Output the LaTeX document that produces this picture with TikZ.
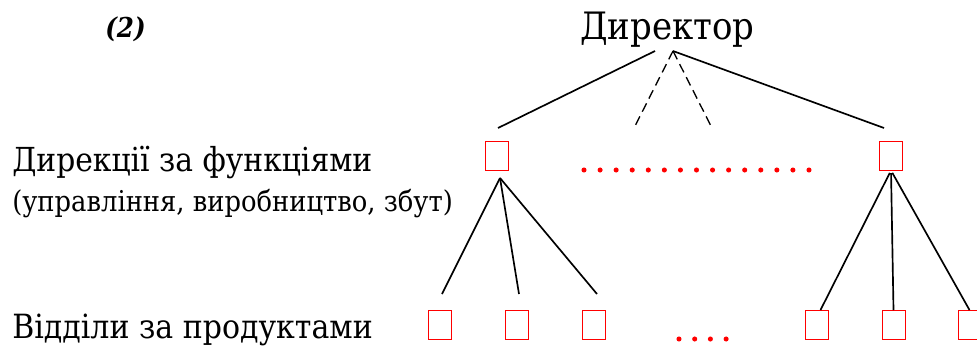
\documentclass[tikz,border=0pt]{standalone}
\usepackage{fontspec}
\setmainfont{DejaVu Serif}[FakeStretch=0.9]
\tikzset{
  cell/.style={draw=red, line width=0.75pt, minimum width=17.25pt,
    minimum height=21.75pt, inner sep=0pt},
  link/.style={line width=1.25pt},
  heading/.style={inner sep=0pt, anchor=base west},
}
\begin{document}
\begin{tikzpicture}[x=0.75pt,y=-0.75pt]
    \useasboundingbox (0,0) rectangle (977,347);
    % titles
    \node[heading] (num) at (105,37) {\fontsize{20.5}{20.5}\selectfont\bfseries\itshape (2)};
    \node[inner sep=0pt, anchor=base] (dir) at (667.5,39.5) {\fontsize{28.3}{28.3}\selectfont Директор};
    \node[heading] (lvl1) at (12,171.5) {\fontsize{24.8}{24.8}\selectfont Дирекції за функціями};
    \node[heading] (lvl1b) at (12,211) {\fontsize{21.5}{21.5}\selectfont (управління, виробництво, збут)};
    \node[heading] (lvl2) at (12,338) {\fontsize{25}{25}\selectfont Відділи за продуктами};
    % boxes
    \node[cell] (d1) at (497,155.5) {};
    \node[cell] (d2) at (891,155.5) {};
    \node[cell] (p1) at (439.5,325) {};
    \node[cell] (p2) at (516.5,325) {};
    \node[cell] (p3) at (593.5,325) {};
    \node[cell] (p4) at (816.5,325) {};
    \node[cell] (p5) at (893.5,325) {};
    \node[cell] (p6) at (969.5,325) {};
    % director's branches
    \coordinate (top) at (673,51);
    \coordinate (b1) at (498,128);
    \coordinate (b2) at (634,128);
    \coordinate (b3) at (712,128);
    \coordinate (b4) at (884,128);
    \draw[link] (655,51) -- (b1);
    \draw[link] (top) -- (b4);
    \draw[line width=1pt, dash pattern=on 7pt off 4pt] (top) -- (b2);
    \draw[line width=1pt, dash pattern=on 7pt off 4pt] (top) -- (b3);
    % departments
    \coordinate (h1) at (500,178);
    \coordinate (e1) at (442,294);
    \coordinate (e2) at (519,294);
    \coordinate (e3) at (597,294);
    \draw[link] (h1) -- (e1);
    \draw[link] (h1) -- (e2);
    \draw[link] (h1) -- (e3);
    \draw[link,shorten <=2pt] (d2.south) -- ([xshift=3pt]p4.north);
    \draw[link,shorten <=2pt] (d2.south) -- (p5.north);
    \draw[link,shorten <=2pt] (d2.south) -- (p6.north);
    % dots
    \foreach \i in {0,...,14}
      \fill[red] (584+16.07*\i,170) circle (1.9pt);
    \foreach \i in {0,...,3}
      \fill[red] (679+15.7*\i,339) circle (1.9pt);
\end{tikzpicture}
\end{document}
